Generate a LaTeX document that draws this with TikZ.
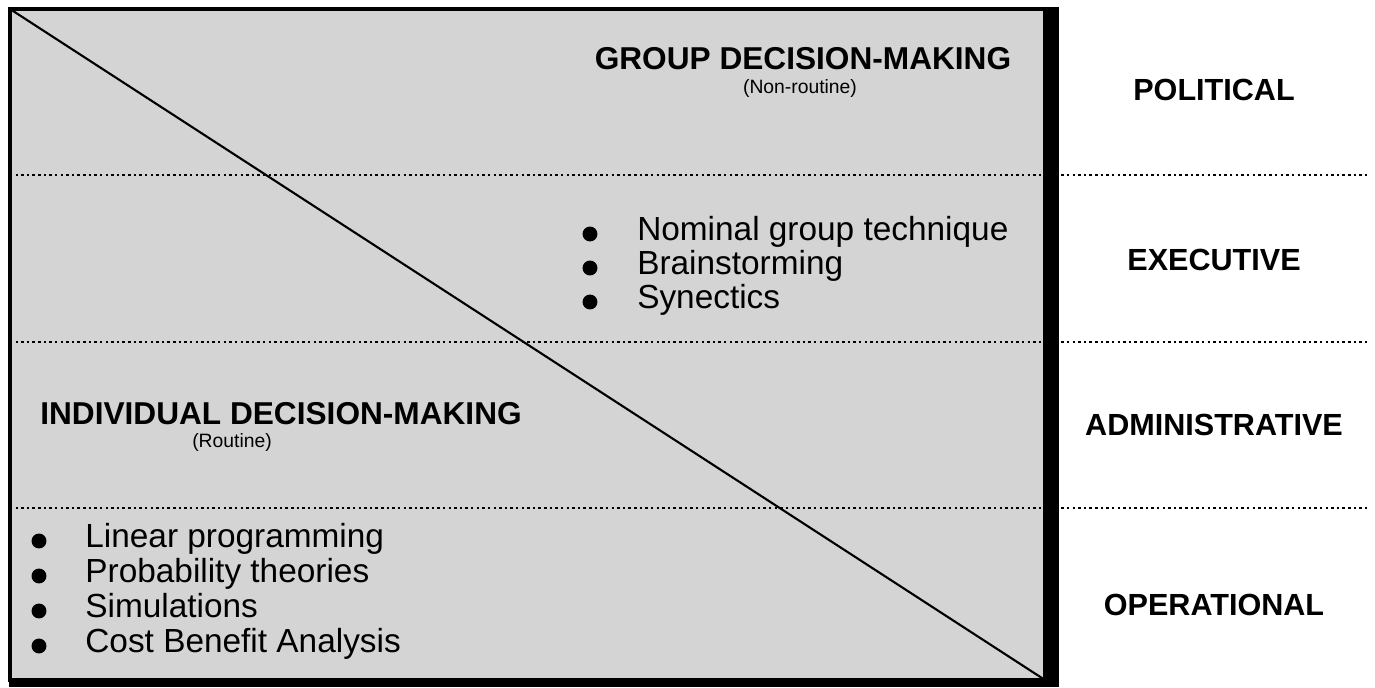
\documentclass[tikz,border=0pt]{standalone}
\usepackage{fontspec}
\setmainfont{Liberation Sans}
\usetikzlibrary{positioning}

\tikzset{
  band/.style={line width=1.4pt, dash pattern=on 1.4pt off 1.8pt},
  level/.style={font=\fontsize{17.4}{20}\selectfont\bfseries},
  heading/.style={font=\fontsize{18}{20}\selectfont\bfseries},
  note/.style={font=\fontsize{11}{13}\selectfont},
  item/.style={font=\fontsize{19}{20}\selectfont, anchor=west, inner sep=0pt,
    text height=0.85em, text depth=0.13em},
  dot/.style={circle, fill=black, inner sep=0pt, minimum size=8.5pt},
}

\begin{document}
\begin{tikzpicture}[x=0.02cm, y=-0.02cm]
    \useasboundingbox (0,0) rectangle (1375,687);

    % Panel
    \fill[black!17] (10,9) rectangle (1045,680);
    \foreach \y in {175,342,508}
        \draw[band] (10,\y) -- (1370,\y);
    \draw[line width=1.2pt] (10,9) -- (1045,680);
    \draw[line width=2pt] (10,9) rectangle (1045,680);
    \fill (1045,7) rectangle (1059,687);
    \fill (9,680) rectangle (1059,687);

    % Group side
    \node[heading] (group) at (803,59) {GROUP DECISION-MAKING};
    \node[note] (nonroutine) at (800,88) {(Non-routine)};
    \node[dot] (g1) at (590,234) {};
    \node[dot] (g2) at (590,268) {};
    \node[dot] (g3) at (590,302) {};
    \node[item, right=26.7pt of g1.center] (ngt) {Nominal group technique};
    \node[item, right=26.7pt of g2.center] (brain) {Brainstorming};
    \node[item, right=26.7pt of g3.center] (syn) {Synectics};

    % Individual side
    \node[heading, anchor=west, inner sep=0pt] (individual) at (40,414) {INDIVIDUAL DECISION-MAKING};
    \node[note] (routine) at (232,442) {(Routine)};
    \node[dot] (i1) at (39,541) {};
    \node[dot] (i2) at (39,576) {};
    \node[dot] (i3) at (39,611) {};
    \node[dot] (i4) at (39,646) {};
    \node[item, right=26.2pt of i1.center] (lp) {Linear programming};
    \node[item, right=26.2pt of i2.center] (prob) {Probability theories};
    \node[item, right=26.2pt of i3.center] (sim) {Simulations};
    \node[item, right=26.2pt of i4.center] (cba) {Cost Benefit Analysis};

    % Levels
    \node[level] (political) at (1214,90) {POLITICAL};
    \node[level] (executive) at (1214,260) {EXECUTIVE};
    \node[level] (administrative) at (1214,425) {ADMINISTRATIVE};
    \node[level] (operational) at (1214,605) {OPERATIONAL};
\end{tikzpicture}
\end{document}
